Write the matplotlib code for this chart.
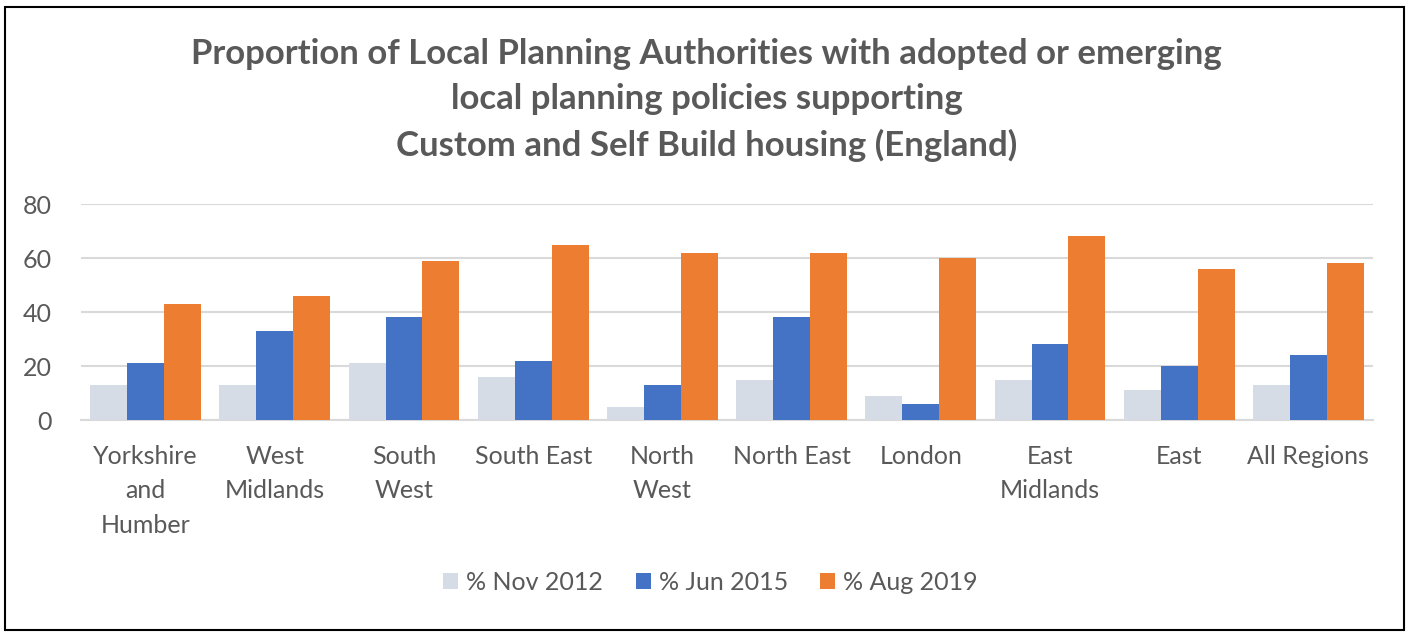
import numpy as np
import matplotlib.pyplot as plt
from matplotlib.patches import Rectangle

regions = ["Yorkshire\nand\nHumber", "West\nMidlands", "South\nWest", "South East",
           "North\nWest", "North East", "London", "East\nMidlands", "East", "All Regions"]
nov_2012 = [13, 13, 21, 16, 5, 15, 9, 15, 11, 13]
jun_2015 = [21, 33, 38, 22, 13, 38, 6, 28, 20, 24]
aug_2019 = [43, 46, 59, 65, 62, 62, 60, 68, 56, 58]
series_names = ["% Nov 2012", "% Jun 2015", "% Aug 2019"]
colors = ["#D6DCE5", "#4472C4", "#ED7D31"]
y_ticks = [0, 20, 40, 60, 80]

plt.rcParams['font.family'] = ['Lato', 'DejaVu Sans']
text_grey = "#595959"

fig = plt.figure(figsize=(14.13, 6.37), dpi=100)
W, H = 1413, 637

# outer chart border
fig.patches.append(Rectangle((5 / W, 1 - 630 / H), 1399 / W, 623 / H,
                             transform=fig.transFigure, fill=False,
                             edgecolor="black", linewidth=1.5))

ax = fig.add_axes([81 / W, 1 - 420 / H, 1292 / W, 216 / H])

x = np.arange(len(regions))
bw = 1 / 3.5
for k, vals in enumerate([nov_2012, jun_2015, aug_2019]):
    ax.bar(x + (k - 1) * bw, vals, width=bw, color=colors[k],
           label=series_names[k], zorder=3)

ax.set_xlim(-0.5, len(regions) - 0.5)
ax.set_ylim(0, 80)
ax.set_yticks(y_ticks)
ax.set_xticks(x)
ax.set_xticklabels(regions, linespacing=1.6)
ax.yaxis.grid(True, color="#D9D9D9", linewidth=1.5, zorder=0)
ax.set_axisbelow(True)
for s in ["top", "right", "left"]:
    ax.spines[s].set_visible(False)
ax.spines["bottom"].set_color("#D9D9D9")
ax.spines["bottom"].set_linewidth(1.5)
ax.tick_params(axis="both", length=0, labelsize=18, colors=text_grey)
ax.tick_params(axis="y", pad=21)
ax.tick_params(axis="x", pad=18)

fig.text(0.5, 1 - 100 / H,
         "Proportion of Local Planning Authorities with adopted or emerging\n"
         "local planning policies supporting\n"
         "Custom and Self Build housing (England)",
         ha="center", va="center", fontsize=25, fontweight="bold",
         color=text_grey, linespacing=1.5)

leg = fig.legend(loc="center", bbox_to_anchor=(0.503, 1 - 582 / H), ncol=3,
                 frameon=False, fontsize=18, handlelength=0.6, handleheight=0.6,
                 handletextpad=0.32, columnspacing=1.3)
for t in leg.get_texts():
    t.set_color(text_grey)

fig.savefig("out.png", dpi=100, facecolor="white")
